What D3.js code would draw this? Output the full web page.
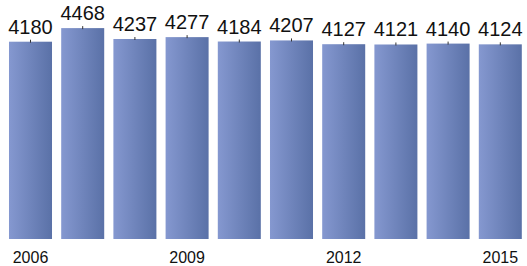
<!DOCTYPE html>
<html>
<head>
<meta charset="utf-8">
<script src="https://cdn.jsdelivr.net/npm/d3@7"></script>
<style>
	body { margin: 0; background: #fff; }
	svg { display: block; font-family: "Liberation Sans", Arial, sans-serif; }
</style>
</head>
<body>
<div id="chart"></div>
<script>
// chart data
const years = [2006, 2007, 2008, 2009, 2010, 2011, 2012, 2013, 2014, 2015];
const values = [4180, 4468, 4237, 4277, 4184, 4207, 4127, 4121, 4140, 4124];
const yearLabels = [2006, 2009, 2012, 2015];

const w = 527;
const h = 266;

const data = years.map((y, i) => ({ year: y, value: values[i] }));

const svg = d3.select('#chart').append('svg')
	.attr('width', w)
	.attr('height', h);

// bar gradient, light on the left, darker on the right
const grad = svg.append('defs').append('linearGradient')
	.attr('id', 'barFill')
	.attr('x1', '0%').attr('x2', '100%')
	.attr('y1', '0%').attr('y2', '0%');
grad.append('stop').attr('offset', '0%').attr('stop-color', '#8598d0');
grad.append('stop').attr('offset', '100%').attr('stop-color', '#5a71a7');

const x = d3.scaleBand()
	.domain(years)
	.range([4.4, 526.4])
	.paddingInner(0.176)
	.paddingOuter(0.088);

const y = d3.scaleLinear()
	.domain([0, 5000])
	.range([239, 3]);

const bars = svg.selectAll('.bar')
	.data(data)
	.enter()
	.append('g')
	.attr('class', 'bar');

bars.append('rect')
	.attr('x', d => x(d.year))
	.attr('y', d => y(d.value))
	.attr('width', x.bandwidth())
	.attr('height', d => y(0) - y(d.value))
	.style('fill', 'url(#barFill)');

// tiny marker at the top of each bar
bars.append('line')
	.attr('x1', d => x(d.year) + x.bandwidth() / 2)
	.attr('x2', d => x(d.year) + x.bandwidth() / 2)
	.attr('y1', d => y(d.value) - 2)
	.attr('y2', d => y(d.value) + 1)
	.style('stroke', '#333')
	.style('stroke-width', 1);

bars.append('text')
	.attr('x', d => x(d.year) + x.bandwidth() / 2)
	.attr('y', d => y(d.value) - 8)
	.attr('text-anchor', 'middle')
	.style('font-size', '20px')
	.style('fill', '#111')
	.text(d => d.value);

// x axis labels, every third year
const xAxis = d3.axisBottom(x)
	.tickValues(yearLabels)
	.tickSize(0)
	.tickPadding(0);

const gx = svg.append('g')
	.attr('transform', 'translate(0,248)')
	.call(xAxis);
gx.select('.domain').remove();
gx.selectAll('text')
	.attr('dy', '0.96em')
	.style('font-family', '"Liberation Sans", Arial, sans-serif')
	.style('font-size', '16px')
	.style('fill', '#111');
</script>
</body>
</html>
